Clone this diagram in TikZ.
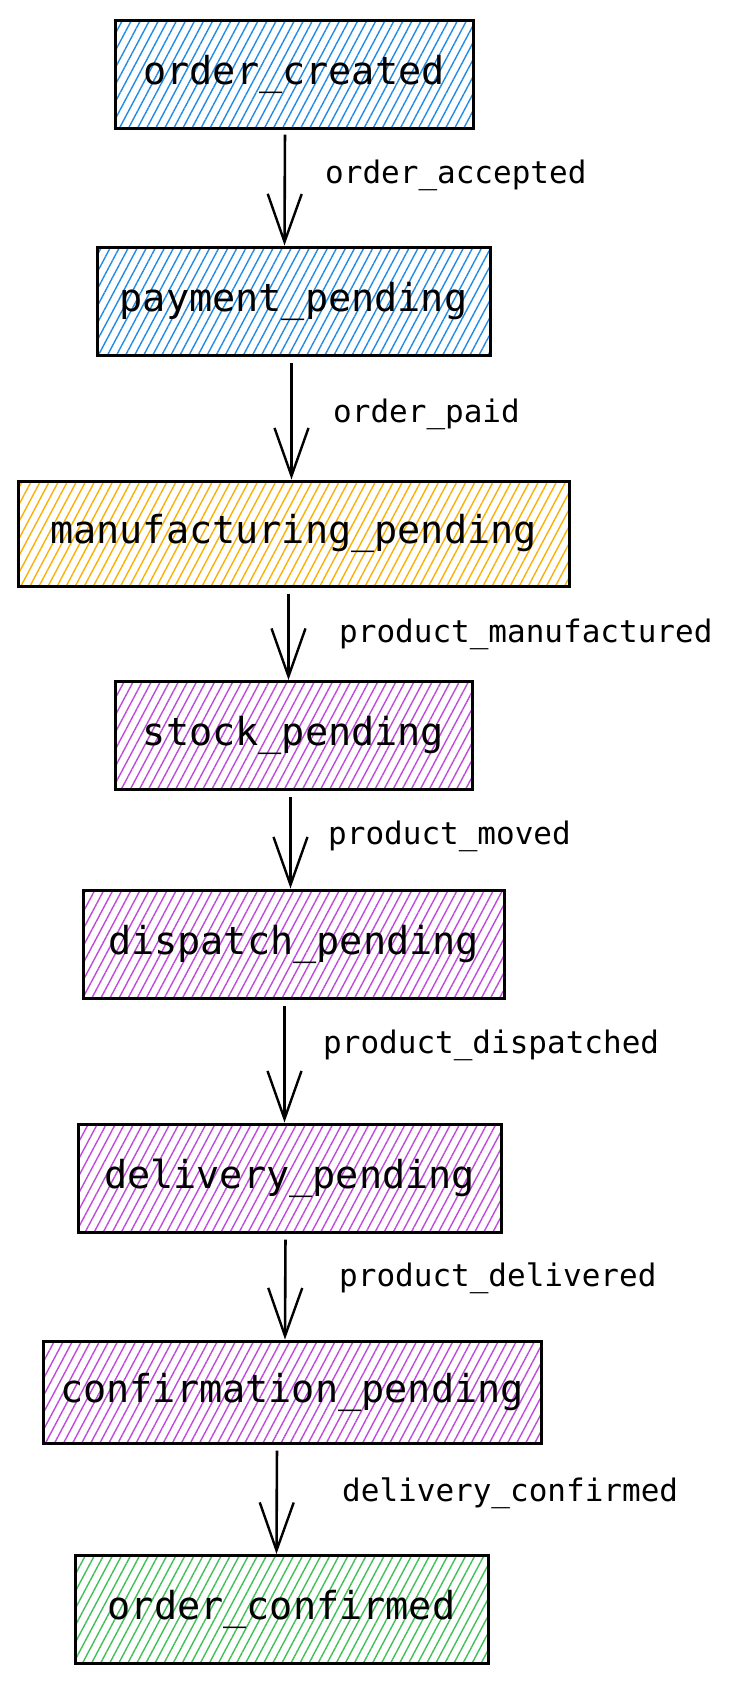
\documentclass[tikz,border=0pt]{standalone}
\usepackage{fontspec}
\setmonofont{DejaVu Sans Mono}
\usetikzlibrary{arrows.meta,patterns.meta}

\definecolor{hblue}{HTML}{228BE6}
\definecolor{horange}{HTML}{FAB005}
\definecolor{hpurple}{HTML}{BE4BDB}
\definecolor{hgreen}{HTML}{40C057}

\tikzset{
  state/.style={draw,line width=3pt,minimum height=108pt,inner sep=0pt,
    font=\ttfamily\fontsize{38.5}{46}\selectfont,
    pattern={Lines[angle=62,distance=8pt,line width=1.4pt]},pattern color=#1},
  event/.style={anchor=west,inner sep=0pt,font=\ttfamily\fontsize{31}{37}\selectfont},
  flow/.style={line width=2.6pt,shorten <=6pt,-{Straight Barb[length=48pt,width=34pt,line width=2.4pt]}}
}

\begin{document}
\begin{tikzpicture}[x=1pt,y=-1pt]
    \useasboundingbox (0,0) rectangle (734,1682);
    \node[state=hblue,minimum width=358pt] at (294,74) (created) {order\_created};
    \node[state=hblue,minimum width=393pt] at (293.5,301) (payment) {payment\_pending};
    \node[state=horange,minimum width=551pt,minimum height=105pt] at (293.5,533.5) (manufacturing) {manufacturing\_pending};
    \node[state=hpurple,minimum width=357pt] at (293.5,735.5) (stock) {stock\_pending};
    \node[state=hpurple,minimum width=421pt] at (293.5,944) (dispatch) {dispatch\_pending};
    \node[state=hpurple,minimum width=423pt] at (289.5,1178) (delivery) {delivery\_pending};
    \node[state=hpurple,minimum width=498pt,minimum height=102pt] at (292,1392) (confirmation) {confirmation\_pending};
    \node[state=hgreen,minimum width=413pt] at (281.5,1609.5) (confirmed) {order\_confirmed};

    \node[event] at (325,175) (accepted) {order\_accepted};
    \node[event] at (333,414) (paid) {order\_paid};
    \node[event] at (339,634) (manufactured) {product\_manufactured};
    \node[event] at (328,836) (moved) {product\_moved};
    \node[event] at (323,1045) (dispatched) {product\_dispatched};
    \node[event] at (339,1278) (delivered) {product\_delivered};
    \node[event] at (342,1493) (dconfirmed) {delivery\_confirmed};

    \draw[flow] ([xshift=-9pt]created.south) -- ([xshift=-9pt]payment.north);
    \draw[flow] ([xshift=-2pt]payment.south) -- ([xshift=-2pt]manufacturing.north);
    \draw[flow] ([xshift=-5pt]manufacturing.south) -- ([xshift=-5pt]stock.north);
    \draw[flow] ([xshift=-3pt]stock.south) -- ([xshift=-3pt]dispatch.north);
    \draw[flow] ([xshift=-9pt]dispatch.south) -- ([xshift=-5pt]delivery.north);
    \draw[flow] ([xshift=-4pt]delivery.south) -- ([xshift=-7pt]confirmation.north);
    \draw[flow] ([xshift=-15pt]confirmation.south) -- ([xshift=-5pt]confirmed.north);
\end{tikzpicture}
\end{document}
